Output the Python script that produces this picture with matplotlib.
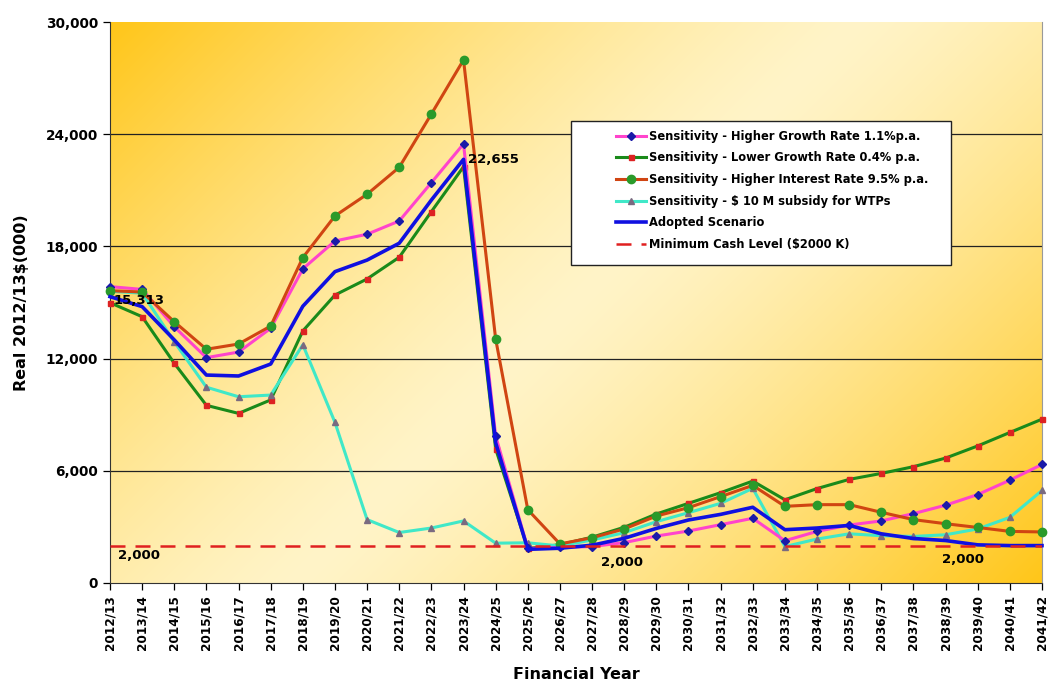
import matplotlib
matplotlib.use("Agg")
import matplotlib.pyplot as plt
import numpy as np
from matplotlib.patches import Rectangle
from matplotlib.ticker import FuncFormatter

plt.rcParams['font.family'] = ['DejaVu Sans']
plt.rcParams['font.weight'] = 'bold'

years = ["2012/13", "2013/14", "2014/15", "2015/16", "2016/17", "2017/18", "2018/19",
         "2019/20", "2020/21", "2021/22", "2022/23", "2023/24", "2024/25", "2025/26",
         "2026/27", "2027/28", "2028/29", "2029/30", "2030/31", "2031/32", "2032/33",
         "2033/34", "2034/35", "2035/36", "2036/37", "2037/38", "2038/39", "2039/40",
         "2040/41", "2041/42"]

higher_growth = [15850, 15700, 13700, 12050, 12350, 13620, 16800, 18290, 18650, 19360,
                 21410, 23480, 7870, 1850, 1900, 1950, 2160, 2510, 2780, 3120,
                 3460, 2260, 2760, 3100, 3320, 3710, 4160, 4730, 5500, 6340]

lower_growth = [14990, 14240, 11750, 9500, 9070, 9790, 13480, 15400, 16260, 17420,
                19860, 22260, 7170, 1850, 2050, 2450, 2980, 3690, 4260, 4830,
                5450, 4450, 5050, 5540, 5860, 6220, 6680, 7330, 8050, 8760]

higher_interest = [15630, 15560, 13970, 12500, 12780, 13740, 17400, 19630, 20790, 22230,
                   25080, 27970, 13050, 3920, 2090, 2420, 2890, 3580, 4030, 4620,
                   5220, 4100, 4190, 4190, 3780, 3390, 3170, 2970, 2760, 2730]

wtp_subsidy = [15600, 15500, 12900, 10470, 9960, 10050, 12740, 8590, 3390, 2700,
               2940, 3320, 2130, 2150, 1980, 2300, 2690, 3280, 3760, 4260,
               5060, 1950, 2350, 2630, 2530, 2490, 2580, 2890, 3510, 4950]

adopted = [15313, 14780, 13000, 11120, 11070, 11710, 14800, 16650, 17270, 18170,
           20480, 22655, 7500, 1800, 1860, 2020, 2390, 2920, 3370, 3670,
           4050, 2850, 2940, 3080, 2630, 2380, 2270, 2040, 2000, 2000]

min_cash = [2000] * len(years)

x = np.arange(len(years))

fig = plt.figure(figsize=(10.55, 6.84), dpi=100)
ax = fig.add_axes([110 / 1055, 1 - 583 / 684, 932 / 1055, 561 / 684])

# diagonal gold-cream gradient behind the plot
W, H = 932, 561
gx, gy = np.meshgrid(np.linspace(0, 1, 400), np.linspace(0, 1, 300))
d = (gx * W + gy * H) / (W + H)
t = np.clip(np.abs(d - 0.5) * 2, 0, 1) ** 1.3
pale = np.array([255, 244, 200]) / 255
gold = np.array([255, 198, 25]) / 255
img = pale[None, None, :] * (1 - t[..., None]) + gold[None, None, :] * t[..., None]
ax.imshow(img, extent=[0, len(years) - 1, 0, 30000], aspect='auto', zorder=0,
          origin='upper', interpolation='bilinear')

ax.set_xlim(0, len(years) - 1)
ax.set_ylim(0, 30000)

for yv in [6000, 12000, 18000, 24000]:
    ax.axhline(yv, color='#222222', lw=0.9, zorder=1)

l1, = ax.plot(x, higher_growth, color='#FF44CC', lw=2.2, marker='D', ms=3.6,
              mfc='#1A1AA8', mec='#1A1AA8', zorder=4, clip_on=False,
              label='Sensitivity - Higher Growth Rate 1.1%p.a.')
l2, = ax.plot(x, lower_growth, color='#1A8A1A', lw=2.2, marker='s', ms=3.6,
              mfc='#DD2222', mec='#DD2222', zorder=3, clip_on=False,
              label='Sensitivity - Lower Growth Rate 0.4% p.a.')
l3, = ax.plot(x, higher_interest, color='#D04512', lw=2.2, marker='o', ms=6,
              mfc='#2A9A2A', mec='#2A9A2A', zorder=5, clip_on=False,
              label='Sensitivity - Higher Interest Rate 9.5% p.a.')
l4, = ax.plot(x, wtp_subsidy, color='#40E8C8', lw=2.2, marker='^', ms=4.5,
              mfc='#7A6A80', mec='#7A6A80', zorder=3, clip_on=False,
              label='Sensitivity - $ 10 M subsidy for WTPs')
l5, = ax.plot(x, adopted, color='#1010E0', lw=2.6, zorder=6, clip_on=False,
              label='Adopted Scenario')
l6, = ax.plot(x, min_cash, color='#E02020', lw=1.8, dashes=(6, 4), zorder=7,
              label='Minimum Cash Level ($2000 K)')

# value labels
ax.annotate(f"{adopted[0]:,}", (0, adopted[0]), xytext=(4, -4), textcoords='offset pixels',
            ha='left', va='center', fontsize=9.5, fontweight='bold', zorder=8)
ax.annotate(f"{adopted[11]:,}", (11, adopted[11]), xytext=(4, 0), textcoords='offset pixels',
            ha='left', va='center', fontsize=9.5, fontweight='bold', zorder=8)
for idx, off in [(0, (8, -10)), (15, (9, -17)), (26, (-4, -14))]:
    ax.annotate(f"{min_cash[idx]:,}", (idx, min_cash[idx]), xytext=off,
                textcoords='offset pixels', ha='left', va='center',
                fontsize=9.5, fontweight='bold', zorder=8)

# axes styling
ax.spines['top'].set_visible(False)
ax.spines['right'].set_color('#999999')
ax.spines['right'].set_linewidth(0.8)
ax.spines['left'].set_color('#333333')
ax.spines['bottom'].set_color('#333333')

ax.set_yticks([0, 6000, 12000, 18000, 24000, 30000])
ax.yaxis.set_major_formatter(FuncFormatter(lambda v, p: f"{int(v):,}"))
ax.set_xticks(x)
ax.set_xticklabels(years, rotation=90, fontsize=8.7, fontweight='bold')
ax.tick_params(axis='y', labelsize=9.8, direction='out', length=5, width=0.9)
ax.tick_params(axis='x', direction='out', length=5, width=0.9)
for lab in ax.get_yticklabels():
    lab.set_fontweight('bold')

ax.set_ylabel("Real 2012/13$(000)", fontsize=11.5, fontweight='bold', labelpad=12)
ax.set_xlabel("Financial Year", fontsize=11.5, fontweight='bold', labelpad=12)

# legend with its own box
box = Rectangle((461 / 932, 318 / 561), 380 / 932, 144 / 561, transform=ax.transAxes,
                facecolor='white', edgecolor='#222222', lw=1.0, zorder=9)
ax.add_patch(box)
leg = ax.legend(handles=[l1, l2, l3, l4, l5, l6], loc='upper left',
                bbox_to_anchor=(500 / 932, 459 / 561), frameon=False, borderpad=0,
                fontsize=8.3, handlelength=2.6, handletextpad=0.3, labelspacing=0.75,
                markerscale=1.0)
leg.set_zorder(10)
for txt in leg.get_texts():
    txt.set_fontweight('bold')

fig.savefig("out.png", dpi=100)
